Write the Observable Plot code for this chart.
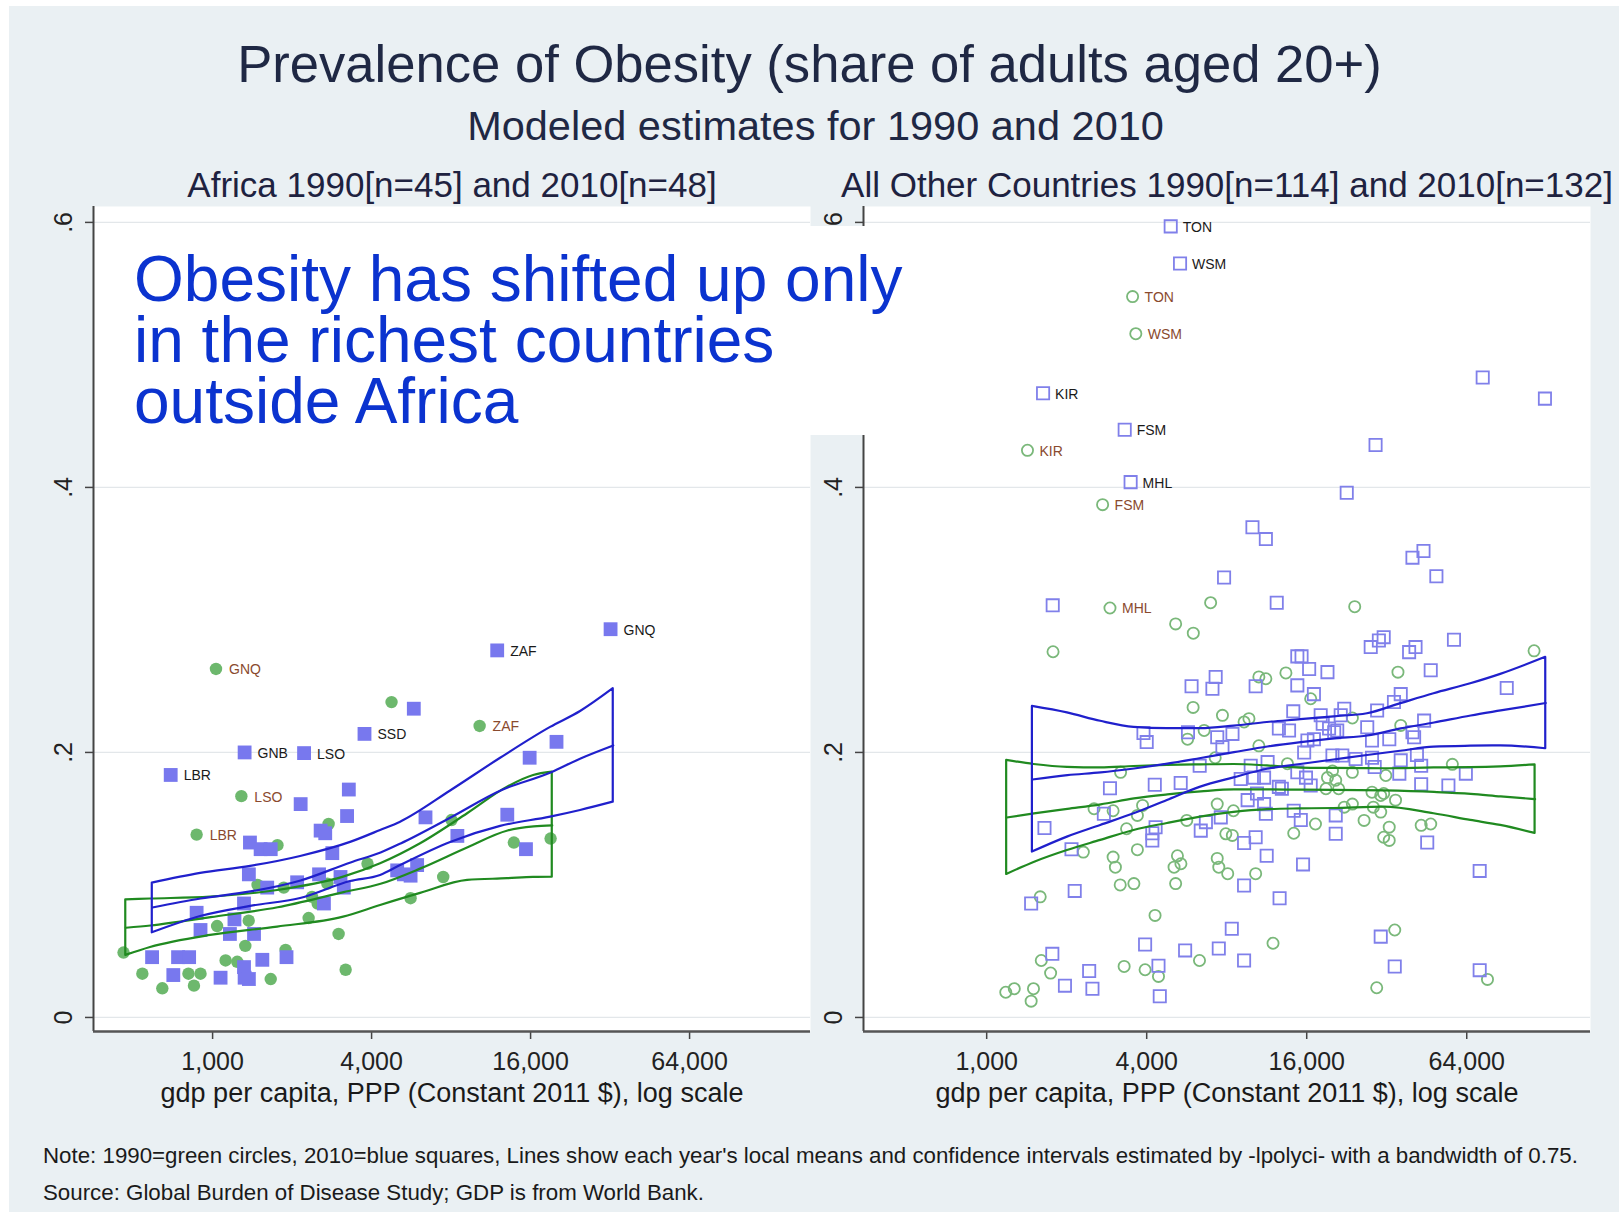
<!DOCTYPE html>
<html><head><meta charset="utf-8">
<script src="https://cdn.jsdelivr.net/npm/d3@7"></script>
<script src="https://cdn.jsdelivr.net/npm/@observablehq/plot@0.6"></script>
<style>
html,body{margin:0;padding:0;background:#fff;}
#page{position:relative;width:1619px;height:1212px;overflow:hidden;font-family:"Liberation Sans",Arial,Helvetica,sans-serif;}
#bg{position:absolute;left:9px;top:6px;right:0;bottom:0;background:#eaf0f3;}
.t{position:absolute;white-space:nowrap;}
#title{left:0;width:1619px;top:38.2px;text-align:center;font-size:52.6px;line-height:52.6px;color:#1f2844;}
#subtitle{left:6px;width:1619px;top:105px;text-align:center;font-size:41.5px;line-height:41.5px;color:#1f2844;}
#note{left:43px;top:1145px;font-size:22.3px;line-height:22.3px;color:#1a1a1a;}
#source{left:43px;top:1182px;font-size:22.3px;line-height:22.3px;color:#1a1a1a;}
#annobox{position:absolute;left:100px;top:226px;width:780px;height:209px;background:#fff;z-index:5;}
#anno{left:134px;top:249px;font-size:64px;line-height:61px;color:#0b33cf;z-index:6;}
.panel{position:absolute;top:150px;}
</style></head><body>
<div id="page">
<div id="bg"></div>
<div class="t" id="title">Prevalence of Obesity (share of adults aged 20+)</div>
<div class="t" id="subtitle">Modeled estimates for 1990 and 2010</div>
<div class="panel" id="left"></div>
<div class="panel" id="right"></div>
<div id="annobox"></div>
<div class="t" id="anno">Obesity has shifted up only<br>in the richest countries<br>outside Africa</div>
<div class="t" id="note">Note: 1990=green circles, 2010=blue squares, Lines show each year's local means and confidence intervals estimated by -lpolyci- with a bandwidth of 0.75.</div>
<div class="t" id="source">Source: Global Burden of Disease Study; GDP is from World Bank.</div>
</div>
<script>
// ---------- DATA ----------
const panelTitles = ["Africa 1990[n=45] and 2010[n=48]", "All Other Countries 1990[n=114] and 2010[n=132]"];
const xTitle = "gdp per capita, PPP (Constant 2011 $), log scale";
const xTicks = [1000, 4000, 16000, 64000];
const yTicks = [0, 0.2, 0.4, 0.6];

// [gdp per capita, obesity share, label]
const africa1990 = [
  [1030,0.263,"GNQ"],[1285,0.167,"LSO"],[870,0.138,"LBR"],[10260,0.220,"ZAF"],
  [4760,0.238],[2750,0.146],[1760,0.130],[3860,0.116],[1480,0.100],[1370,0.073],
  [1040,0.069],[2310,0.075],[3000,0.063],[1330,0.054],[460,0.049],[1120,0.043],
  [1240,0.042],[1890,0.051],[542,0.033],[810,0.033],[900,0.033],[850,0.024],
  [645,0.022],[1660,0.029],[3190,0.036],[5620,0.090],[8030,0.149],[13830,0.132],
  [19050,0.135],[7470,0.106],[1860,0.098],[2380,0.091],[2500,0.086],[2720,0.101],
  [1070,0.030]
];
const africa2010 = [
  [32140,0.293,"GNQ"],[11960,0.277,"ZAF"],[3760,0.214,"SSD"],[1322,0.200,"GNB"],
  [2220,0.1995,"LSO"],[694,0.183,"LBR"],
  [5780,0.233],[20060,0.208],[15870,0.196],[6400,0.151],[8450,0.137],[13060,0.153],
  [15370,0.127],[5620,0.107],[5950,0.115],[3280,0.172],[2155,0.161],[3230,0.152],
  [2565,0.141],[2670,0.139],[1385,0.132],[1520,0.127],[1660,0.127],[2840,0.124],
  [1372,0.108],[2530,0.108],[3050,0.106],[3140,0.098],[2090,0.102],[1610,0.098],
  [5000,0.111],[5300,0.108],[2640,0.086],[1315,0.086],[870,0.079],[1210,0.074],
  [900,0.066],[1163,0.063],[1435,0.063],[590,0.0455],[740,0.0455],[815,0.0455],
  [1543,0.0435],[1905,0.0455],[710,0.032],[1072,0.030],[1315,0.038],[1322,0.030],
  [1372,0.029]
];
const other1990 = [
  [3540,0.544,"TON"],[3640,0.516,"WSM"],[1424,0.428,"KIR"],[2730,0.387,"FSM"],[2910,0.309,"MHL"],
  [6960,0.313],[5140,0.297],[5990,0.290],[24250,0.310],[1777,0.276],[114700,0.2767],
  [10570,0.257],[11230,0.2556],[13360,0.260],[5980,0.234],[7710,0.228],[9300,0.223],
  [9700,0.2255],[5700,0.210],[6580,0.2166],[10570,0.205],[3190,0.185],[13540,0.1915],
  [7240,0.196],[7370,0.161],[8480,0.156],[2535,0.1575],[2990,0.156],[3690,0.1525],
  [3860,0.160],[3360,0.1424],[5660,0.1487],[7940,0.1386],[8400,0.1374],[2310,0.1248],
  [2990,0.121],[3050,0.1134],[3690,0.1266],[5070,0.1134],[5380,0.116],[5220,0.122],
  [7370,0.120],[7470,0.1134],[8070,0.1085],[10280,0.1085],[14300,0.139],[35270,0.2606],
  [16560,0.2405],[23760,0.226],[36130,0.2204],[56500,0.191],[20000,0.186],[19150,0.181],
  [20570,0.179],[23760,0.185],[31750,0.1826],[18900,0.1726],[21100,0.1726],[28170,0.170],
  [30380,0.1675],[31170,0.169],[34540,0.164],[22150,0.1587],[23760,0.161],[28500,0.1587],
  [30380,0.155],[17260,0.146],[26300,0.1487],[32700,0.1436],[31170,0.136],[32700,0.1336],
  [43130,0.145],[46850,0.146],[1590,0.091],[3180,0.100],[3580,0.101],[5140,0.101],
  [4300,0.077],[11950,0.056],[34300,0.066],[29340,0.0224],[76600,0.0287],[6320,0.043],
  [1605,0.043],[1740,0.0335],[3290,0.0385],[3945,0.036],[4430,0.031],[1180,0.019],
  [1270,0.0217],[1500,0.0217],[1470,0.0123]
];
const other2010 = [
  [4925,0.597,"TON"],[5340,0.569,"WSM"],[1630,0.471,"KIR"],[3306,0.4435,"FSM"],[3480,0.404,"MHL"],
  [29050,0.432],[22630,0.396],[10000,0.370],[11230,0.361],[7820,0.332],[1772,0.311],
  [12340,0.313],[73500,0.483],[126000,0.467],[49200,0.333],[40000,0.347],[44000,0.352],
  [57300,0.285],[90500,0.2486],[71600,0.1106],[71600,0.0357],[27860,0.2795],[29900,0.2845],
  [31170,0.287],[38850,0.2757],[41070,0.2795],[14750,0.2725],[15300,0.2725],[16340,0.263],
  [19150,0.2606],[46850,0.262],[17030,0.244],[36130,0.244],[34070,0.238],[22150,0.233],
  [21480,0.228],[18060,0.228],[18380,0.2217],[29450,0.2317],[44240,0.224],[19420,0.218],
  [20300,0.2153],[20840,0.2166],[27030,0.219],[40000,0.2153],[40570,0.2115],[32720,0.210],
  [17030,0.210],[28170,0.209],[20000,0.1977],[21780,0.1977],[24440,0.195],[28170,0.196],
  [28830,0.189],[36130,0.194],[41570,0.198],[43130,0.190],[63500,0.184],[35700,0.184],
  [16560,0.175],[43130,0.176],[54600,0.175],[20570,0.1525],[20570,0.1386],[45450,0.132],
  [15500,0.1155],[5900,0.250],[7070,0.248],[7270,0.257],[10280,0.250],[14750,0.2506],
  [14240,0.231],[3890,0.2146],[4000,0.2078],[5720,0.2153],[7370,0.2115],[7710,0.204],
  [8410,0.214],[12570,0.218],[13730,0.2166],[15650,0.200],[16100,0.209],[6330,0.190],
  [9850,0.190],[11400,0.1927],[9030,0.180],[10130,0.181],[11060,0.181],[14750,0.185],
  [15900,0.181],[2910,0.173],[4290,0.1756],[5370,0.177],[9590,0.164],[11060,0.161],
  [12570,0.174],[12900,0.1726],[10400,0.169],[7600,0.151],[11230,0.1537],[14300,0.156],
  [15200,0.149],[2760,0.1537],[4320,0.1436],[4200,0.1336],[4200,0.139],[6390,0.141],
  [6680,0.1474],[9300,0.1316],[10280,0.136],[11310,0.122],[2085,0.127],[1650,0.143],
  [1470,0.086],[2144,0.0955],[9300,0.0996],[12650,0.090],[8360,0.067],[30380,0.061],
  [34300,0.0385],[3945,0.055],[5580,0.0506],[7470,0.052],[9300,0.043],[1766,0.048],
  [2430,0.035],[1970,0.024],[2500,0.0217],[4430,0.039],[4480,0.016]
];

// local polynomial fits: [gdp, lower CI, mean, upper CI]
const africa1990Band = [
  [469,0.0468,0.0677,0.0888],[582,0.0528,0.0694,0.0894],[983,0.0619,0.0757,0.0908],
  [1763,0.0682,0.0832,0.0958],[3134,0.0757,0.0946,0.1059],[4326,0.0845,0.1009,0.1160],
  [6132,0.0936,0.1125,0.1311],[9240,0.1034,0.1285,0.1537],[13090,0.1047,0.1411,0.1738],
  [16430,0.1057,0.1442,0.1826],[19330,0.1059,0.1449,0.1851]
];
const africa2010Band = [
  [591,0.0639,0.0830,0.1014],[901,0.0762,0.0898,0.1087],[1393,0.0838,0.0951,0.1140],
  [2154,0.0898,0.1034,0.1215],[3331,0.1026,0.1170,0.1321],[4326,0.1072,0.1245,0.1411],
  [5151,0.1147,0.1313,0.1474],[7966,0.1321,0.1509,0.1709],[12320,0.1442,0.1713,0.1956],
  [19050,0.1512,0.1849,0.2189],[24740,0.1562,0.1955,0.2309],[32900,0.1625,0.2053,0.2481]
];
const other1990Band = [
  [1189,0.1079,0.1509,0.1940],[1507,0.1170,0.1540,0.1909],[2012,0.1260,0.1574,0.1887],
  [2685,0.1336,0.1608,0.1883],[3583,0.1411,0.1653,0.1894],[4785,0.1464,0.1683,0.1902],
  [6386,0.1512,0.1706,0.1906],[8520,0.1547,0.1721,0.1909],[11380,0.1568,0.1721,0.1898],
  [15190,0.1574,0.1719,0.1882],[20270,0.1577,0.1717,0.1879],[31250,0.1587,0.1713,0.1877],
  [48200,0.1537,0.1702,0.1883],[66260,0.1487,0.1688,0.1885],[85900,0.1449,0.1668,0.1891],
  [115700,0.1389,0.1648,0.1906]
];
const other2010Band = [
  [1486,0.1248,0.1796,0.2347],[2012,0.1361,0.1829,0.2298],[2685,0.1449,0.1849,0.2235],
  [3583,0.1537,0.1879,0.2189],[4785,0.1638,0.1915,0.2179],[6386,0.1738,0.1958,0.2179],
  [8520,0.1808,0.2002,0.2198],[11380,0.1873,0.2045,0.2226],[15190,0.1909,0.2078,0.2247],
  [20270,0.1943,0.2106,0.2269],[27070,0.1977,0.2128,0.2292],[36130,0.2009,0.2181,0.2368],
  [48200,0.2040,0.2226,0.2443],[66260,0.2047,0.2279,0.2518],[85900,0.2049,0.2317,0.2589],
  [126900,0.2028,0.2373,0.2718]
];

// ---------- DRAWING ----------
const FONT = '"Liberation Sans", Arial, Helvetica, sans-serif';
const yDomain = [-0.0106, 0.612];
const yFmt = d => d === 0 ? "0" : String(d).replace(/^0/, "");
const xFmt = d3.format(",");
const GREEN = "#208a20", BLUE = "#2020cc";

function toPts(arr) { return arr.map(([gdp, share, label]) => ({gdp, share, label: label || ""})); }

function panel({title, p1990, p2010, b1990, b2010, xDomain, width, marginLeft, hollow}) {
  const g = toPts(p1990), b = toPts(p2010);
  const band = (data, color) => [
    Plot.areaY(data, {x: d => d[0], y1: d => d[1], y2: d => d[3], fill: "none", stroke: color, strokeWidth: 2.2, curve: "monotone-x"}),
    Plot.lineY(data, {x: d => d[0], y: d => d[2], stroke: color, strokeWidth: 2.2, curve: "monotone-x"})
  ];
  const dots = hollow ? [
    Plot.dot(g, {x: "gdp", y: "share", r: 5.6, symbol: "circle", fill: "none", stroke: "#7ab87a", strokeWidth: 1.8}),
    Plot.dot(b, {x: "gdp", y: "share", r: 6.9, symbol: "square", fill: "none", stroke: "#8080ea", strokeWidth: 1.8})
  ] : [
    Plot.dot(g, {x: "gdp", y: "share", r: 6.2, symbol: "circle", fill: "#6db86d", stroke: null}),
    Plot.dot(b, {x: "gdp", y: "share", r: 7.8, symbol: "square", fill: "#7878ee", stroke: null})
  ];
  const dx = hollow ? 12 : 13;
  return Plot.plot({
    width, height: 970,
    marginLeft, marginRight: 0, marginTop: 56, marginBottom: 89,
    style: {background: "transparent", fontFamily: FONT, overflow: "visible"},
    x: {type: "log", domain: xDomain},
    y: {domain: yDomain},
    marks: [
      Plot.frame({fill: "white", stroke: null}),
      Plot.ruleY(yTicks, {stroke: "#e3e7ea", strokeWidth: 1.2}),
      ...dots,
      ...band(b1990, GREEN),
      ...band(b2010, BLUE),
      Plot.text(g.filter(d => d.label), {x: "gdp", y: "share", text: "label", dx, dy: 1, textAnchor: "start", lineAnchor: "middle", fontSize: 14, fill: "#8a4a2e"}),
      Plot.text(b.filter(d => d.label), {x: "gdp", y: "share", text: "label", dx, dy: 1, textAnchor: "start", lineAnchor: "middle", fontSize: 14, fill: "#1a1a1a"}),
      Plot.axisY({ticks: yTicks, tickSize: 8, tickFormat: () => "", label: null, stroke: "#444", strokeWidth: 1.5}),
      Plot.text(yTicks, {y: d => d, frameAnchor: "left", dx: -30, rotate: -90, text: yFmt, fontSize: 25, fill: "#222", textAnchor: "middle", lineAnchor: "middle"}),
      Plot.axisX({ticks: xTicks, tickFormat: () => "", tickSize: 8, label: null, stroke: "#444", strokeWidth: 1.5}),
      Plot.text(xTicks, {x: d => d, frameAnchor: "bottom", dy: 38, lineAnchor: "bottom", text: xFmt, fontSize: 25, fill: "#222"}),
      Plot.ruleX([xDomain[0]], {stroke: "#444", strokeWidth: 2}),
      Plot.ruleY([yDomain[0]], {stroke: "#555", strokeWidth: 2.5}),
      Plot.text([xTitle], {frameAnchor: "bottom", dy: 70, lineAnchor: "bottom", fontSize: 27, fill: "#1a1a1a"}),
      Plot.text([title], {frameAnchor: "top", dy: -10, lineAnchor: "bottom", fontSize: 35, fill: "#1e2240"})
    ]
  });
}

const left = panel({title: panelTitles[0], p1990: africa1990, p2010: africa2010, b1990: africa1990Band, b2010: africa2010Band,
  xDomain: [354, 183700], width: 810, marginLeft: 93, hollow: false});
const right = panel({title: panelTitles[1], p1990: other1990, p2010: other2010, b1990: other1990Band, b2010: other2010Band,
  xDomain: [344, 187000], width: 780, marginLeft: 53, hollow: true});
const L = document.getElementById("left"); L.style.left = "0px"; L.appendChild(left);
const R = document.getElementById("right"); R.style.left = "810px"; R.appendChild(right);
</script>
</body></html>
